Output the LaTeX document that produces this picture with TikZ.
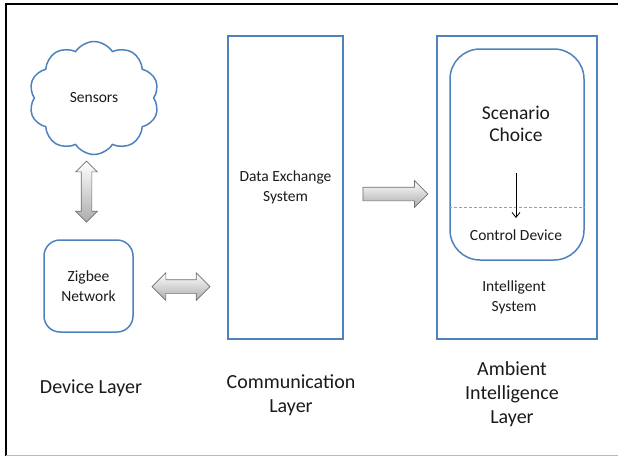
\documentclass[tikz,border=0pt]{standalone}
\usepackage{fontspec}
\setmainfont{Carlito}
\usetikzlibrary{arrows.meta,positioning,shapes.symbols,shapes.arrows}
\definecolor{boxblue}{HTML}{4F81BD}
\definecolor{dashblue}{HTML}{7FA3D1}
\definecolor{arrowgray}{HTML}{6F6F6F}
\definecolor{textdark}{HTML}{1A1A1A}

\begin{document}
\begin{tikzpicture}[x=1pt,y=-1pt,
  every node/.style={text=textdark},
  layerbox/.style={draw=boxblue, line width=2pt, inner sep=0pt},
  roundbox/.style={draw=boxblue, line width=1.5pt, inner sep=0pt},
  blockarrow/.style={draw=arrowgray, line width=0.7pt, inner xsep=0pt,
    top color=white, bottom color=gray!65},
  smalltext/.style={font=\fontsize{15.5}{20.5}\selectfont, align=center},
  bigtext/.style={font=\fontsize{19.5}{22}\selectfont, align=center},
  layerlabel/.style={font=\fontsize{20}{24}\selectfont, align=center}
]
\useasboundingbox (0,0) rectangle (618,456);
% frame
\draw[line width=2.5pt] (6,456) -- (6,4) -- (618,4);
\draw[gray!55, line width=1pt] (6,455) -- (618,455);

% device layer
\node[cloud, draw=boxblue, line width=1.5pt, cloud puffs=10, cloud puff arc=115,
  aspect=1.15, minimum width=130pt, minimum height=113pt, inner sep=0pt,
  smalltext] (sensors) at (94,98) {Sensors};
\node[roundbox, rounded corners=16pt, minimum width=89pt, minimum height=92pt,
  smalltext] (zigbee) at (88.5,286) {Zigbee\\Network};
\node[blockarrow, double arrow, rotate=90, minimum height=61pt, inner ysep=5pt,
  double arrow head extend=5.5pt] (sensorlink) at (86.5,191.5) {};
\node[layerlabel] (devicelayer) at (91,388) {Device Layer};

% communication layer
\node[layerbox, minimum width=115pt, minimum height=303pt, smalltext]
  (exchange) at (285.5,187.5) {Data Exchange\\System};
\node[blockarrow, double arrow, minimum height=58pt, inner ysep=6.5pt,
  double arrow head extend=7pt] (zigbeelink) at (181,286.5) {};
\node[layerlabel] (commlayer) at (291,395) {Communication\\Layer};

% ambient intelligence layer
\node[layerbox, minimum width=160pt, minimum height=303pt] (intelligent) at (517,187.5) {};
\node[roundbox, rounded corners=30pt, minimum width=134pt, minimum height=211pt]
  (inner) at (517,154.5) {};
\node[bigtext] (scenario) at (516,124) {Scenario\\Choice};
\node[smalltext] (control) at (516,235) {Control Device};
\node[smalltext] (intsystem) at (514,297.5) {Intelligent\\System};
\draw[dashblue, line width=0.8pt, dash pattern=on 3pt off 2pt]
  ([yshift=-52.5pt]inner.west) -- ([yshift=-52.5pt]inner.east);
\draw[line width=0.8pt, -{Straight Barb[length=5pt,width=8pt]}]
  ([yshift=-28pt]scenario.south) -- ([yshift=8pt]control.north);
\node[blockarrow, single arrow, minimum height=65pt, inner ysep=6.5pt,
  single arrow head extend=6.5pt] (exchangelink) at (392,194) {};
\node[layerlabel] (ambientlayer) at (512,394) {Ambient\\Intelligence\\Layer};
\end{tikzpicture}
\end{document}
